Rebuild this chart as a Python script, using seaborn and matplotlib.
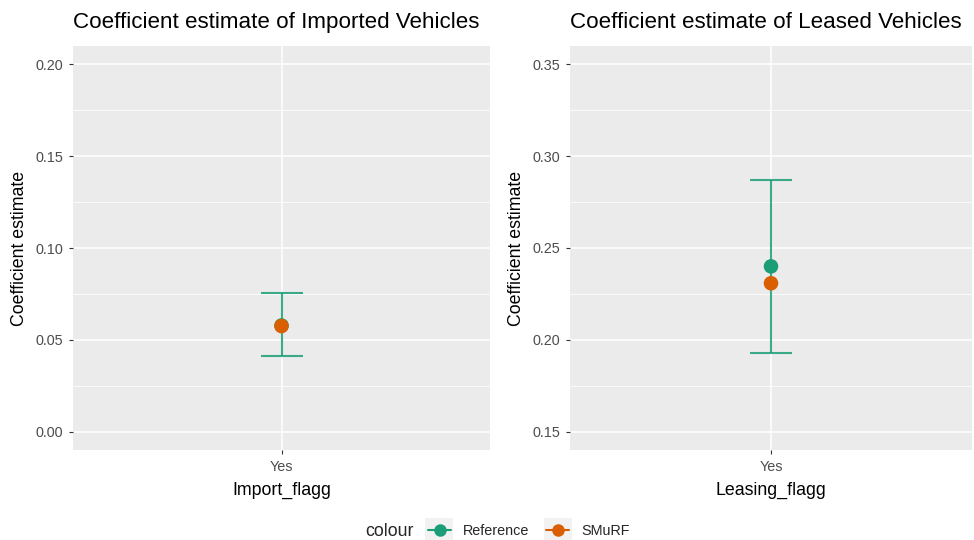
import matplotlib
matplotlib.use("Agg")
import matplotlib.pyplot as plt
from matplotlib.lines import Line2D
from matplotlib.patches import Rectangle
from matplotlib.ticker import MultipleLocator, FormatStrFormatter
import pandas as pd
import seaborn as sns

# Coefficient estimates per factor level
titles = ["Coefficient estimate of Imported Vehicles",
          "Coefficient estimate of Leased Vehicles"]
xlabels = ["Import_flagg", "Leasing_flagg"]
levels = ["Yes", "Yes"]
ref_est = [0.0578, 0.2400]
ref_low = [0.0412, 0.1928]
ref_high = [0.0753, 0.2871]
smurf_est = [0.0575, 0.2308]
y_limits = [(0.0, 0.20), (0.15, 0.35)]

series = ["Reference", "SMuRF"]
palette = {"Reference": "#1B9E77", "SMuRF": "#D95F02"}

sns.set_theme(style="darkgrid")
plt.rcParams["font.family"] = ["Liberation Sans", "DejaVu Sans"]

fig = plt.figure(figsize=(9.74, 5.4), dpi=100)
W, H = 974, 540
boxes = [(73, 46, 490, 450), (570, 46, 972, 450)]

for i in range(2):
    x0, y0, x1, y1 = boxes[i]
    ax = fig.add_axes([x0 / W, 1 - y1 / H, (x1 - x0) / W, (y1 - y0) / H])
    ax.set_facecolor("#EBEBEB")
    for s in ax.spines.values():
        s.set_visible(False)

    df = pd.DataFrame({
        "level": [levels[i], levels[i]],
        "estimate": [ref_est[i], smurf_est[i]],
        "colour": series,
    })

    # confidence interval of the reference estimate
    ax.errorbar([levels[i]], [ref_est[i]],
                yerr=[[ref_est[i] - ref_low[i]], [ref_high[i] - ref_est[i]]],
                fmt="none", ecolor="#1B9E77", alpha=0.85, elinewidth=1.5,
                capsize=14.8, capthick=1.5, zorder=2)
    sns.scatterplot(data=df, x="level", y="estimate", hue="colour",
                    palette=palette, s=110, linewidth=0, legend=False,
                    ax=ax, zorder=3)

    lo, hi = y_limits[i]
    pad = (hi - lo) * 0.05
    ax.set_ylim(lo - pad, hi + pad)
    ax.set_xlim(-0.6, 0.6)
    ax.yaxis.set_major_locator(MultipleLocator(0.05))
    ax.yaxis.set_minor_locator(MultipleLocator(0.025))
    ax.yaxis.set_major_formatter(FormatStrFormatter("%.2f"))
    ax.grid(which="major", color="white", linewidth=1.1)
    ax.grid(which="minor", axis="y", color="white", linewidth=0.55)
    ax.set_axisbelow(True)
    ax.tick_params(axis="both", which="major", length=2.8, width=0.8,
                   color="#333333", labelcolor="#4D4D4D", labelsize=10.4,
                   pad=4.2, left=True, bottom=True)
    ax.tick_params(axis="y", which="minor", length=0)

    ax.set_xlabel(xlabels[i], fontsize=12.8, color="black", labelpad=5.5)
    ax.set_ylabel("Coefficient estimate", fontsize=12.8, color="black",
                  labelpad=5)
    ax.set_title(titles[i], fontsize=16.1, color="black", loc="left",
                 pad=13)

# legend along the bottom, with light key backgrounds
for kx in (425, 544):
    fig.patches.append(Rectangle((kx / W, 0), 28 / W, 22 / H,
                                 transform=fig.transFigure,
                                 facecolor="#F2F2F2", edgecolor="none",
                                 zorder=0))
handles = [Line2D([0], [0], color=palette[s], marker="o", markersize=9,
                  linewidth=1.5, markeredgewidth=0) for s in series]
fig.text(365 / W, 1 - 532 / H, "colour", fontsize=12.8, va="center",
         ha="left")
leg = fig.legend(handles, series, ncol=2, loc="center left",
                 bbox_to_anchor=(428 / W, 1 - 531 / H), frameon=False,
                 fontsize=10.4, handlelength=1.6, handletextpad=0.8,
                 columnspacing=1.2, borderaxespad=0, borderpad=0)

fig.savefig("out.png", dpi=100, facecolor="white")
